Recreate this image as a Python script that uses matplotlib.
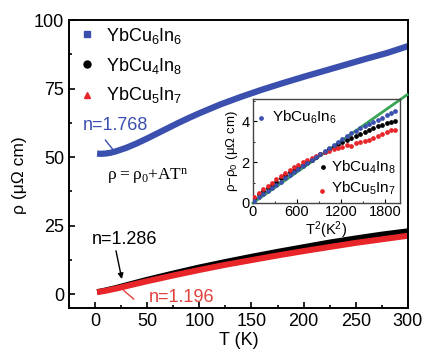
import matplotlib
matplotlib.use("Agg")
import matplotlib.pyplot as plt
from matplotlib.ticker import MultipleLocator

plt.rcParams['font.family'] = ['Liberation Sans', 'DejaVu Sans']

# ---------------- data ----------------
T6 = [2, 5, 10, 15, 20, 30, 40, 50, 60, 70, 80, 90, 100, 120, 140, 160, 180, 200, 220, 240, 260, 280, 300]
rho6 = [51.3, 51.2, 51.3, 51.6, 52.1, 53.4, 55.0, 56.8, 58.7, 60.6, 62.5, 64.3, 66.0, 69.2, 72.0, 74.6,
        77.0, 79.3, 81.5, 83.7, 85.9, 88.0, 90.5]

T48 = [2, 5, 10, 20, 30, 40, 50, 75, 100, 125, 150, 175, 200, 225, 250, 275, 300]
rho48 = [0.8, 1.0, 1.4, 2.3, 3.3, 4.3, 5.3, 7.6, 9.8, 11.8, 13.7, 15.5, 17.2, 18.9, 20.4, 21.8, 23.0]

T57 = [2, 5, 10, 20, 30, 40, 50, 75, 100, 125, 150, 175, 200, 225, 250, 275, 300]
rho57 = [0.7, 0.9, 1.2, 2.0, 2.9, 3.8, 4.7, 6.8, 8.8, 10.7, 12.4, 14.1, 15.7, 17.2, 18.7, 20.0, 21.3]

# inset: rho - rho0 vs T^2
T2 = [20, 80, 140, 200, 260, 320, 380, 440, 500, 560, 620, 680, 740, 800, 860, 920, 980, 1040,
      1100, 1160, 1220, 1280, 1340, 1400, 1460, 1520, 1580, 1640, 1700, 1760, 1820, 1880, 1940]
d6 = [0.1, 0.3, 0.45, 0.6, 0.75, 0.9, 1.05, 1.2, 1.35, 1.5, 1.65, 1.8, 1.95, 2.1, 2.25, 2.4, 2.55,
      2.7, 2.85, 3.0, 3.15, 3.3, 3.42, 3.52, 3.65, 3.75, 3.85, 3.95, 4.05, 4.15, 4.3, 4.4, 4.5]
d48 = [0.25, 0.45, 0.6, 0.75, 0.9, 1.05, 1.2, 1.35, 1.5, 1.62, 1.75, 1.88, 2.0, 2.12, 2.25, 2.38,
       2.5, 2.62, 2.75, 2.87, 2.98, 3.1, 3.2, 3.3, 3.4, 3.5, 3.58, 3.66, 3.75, 3.82, 3.9, 3.95, 4.0]
d57 = [0.3, 0.5, 0.7, 0.85, 1.0, 1.15, 1.3, 1.45, 1.6, 1.75, 1.88, 2.0, 2.1, 2.2, 2.3, 2.4, 2.5,
       2.55, 2.62, 2.7, 2.75, 2.85, 2.8, 2.95, 3.0, 3.05, 3.1, 3.2, 3.3, 3.4, 3.5, 3.55, 3.55]
T2_fit = [0, 2100]
d_fit = [0, 5.3]

labels = [r'$\mathregular{YbCu_6In_6}$', r'$\mathregular{YbCu_4In_8}$', r'$\mathregular{YbCu_5In_7}$']

BLUE = '#3a4fae'
RED = '#e8262a'
BLACK = '#000000'
GREEN = '#3aa655'

fig = plt.figure(figsize=(4.28, 3.53), dpi=100)
ax = fig.add_axes([0.161, 0.128, 0.792, 0.815])

ax.plot(T6, rho6, color=BLUE, lw=4.5, solid_capstyle='butt')
ax.plot(T48, rho48, color=BLACK, lw=4.0, solid_capstyle='butt')
ax.plot(T57, rho57, color=RED, lw=4.3, solid_capstyle='butt')

ax.set_xlim(-25, 300)
ax.set_ylim(-5, 100)
ax.xaxis.set_major_locator(MultipleLocator(50))
ax.xaxis.set_minor_locator(MultipleLocator(25))
ax.yaxis.set_major_locator(MultipleLocator(25))
ax.yaxis.set_minor_locator(MultipleLocator(12.5))
ax.tick_params(which='both', direction='in', top=False, right=False, labelsize=13, width=1.2)
ax.tick_params(which='major', length=4)
ax.tick_params(which='minor', length=2.5)
for s in ax.spines.values():
    s.set_linewidth(1.4)
ax.set_xlabel('T (K)', fontsize=13, labelpad=2)
ax.set_ylabel('ρ (μΩ cm)', fontsize=12.5)
ax.yaxis.set_label_coords(-0.125, 0.46)

# legend (manual)
mk = ['s', 'o', '^']
cols = [BLUE, BLACK, RED]
leg_marker_y = [94.9, 84.0, 72.7]
leg_text_y = [92.5, 81.6, 70.7]
for m, c, ym, yt, lab in zip(mk, cols, leg_marker_y, leg_text_y, labels):
    ax.plot([-7.5], [ym], marker=m, color=c, ms=5, ls='none')
    ax.text(11, yt, lab, fontsize=13, va='baseline', ha='left')

# annotations
ax.text(19.6, 61.6, 'n=1.768', color=BLUE, fontsize=13, ha='center', va='center')
ax.plot([10, 17.7], [56.2, 52.5], color=BLUE, lw=1.0)
ax.text(50.7, 42.7, r'$\mathregular{\rho=\rho_0{+}AT^n}$', fontsize=12.5, ha='center', va='center',
        family=['Liberation Serif', 'DejaVu Serif'])
ax.text(28.2, 19.8, 'n=1.286', color=BLACK, fontsize=13, ha='center', va='center')
ax.annotate('', xy=(26.3, 4.5), xytext=(19.6, 16.8),
            arrowprops=dict(arrowstyle='-|>', color='black', lw=1.0, mutation_scale=8))
ax.text(82.8, -1.4, 'n=1.196', color='#e2403a', fontsize=13, ha='center', va='center')
ax.plot([37.2, 27.6], [-1.8, 1.3], color='#e2403a', lw=1.0)

# ---------------- inset ----------------
ins = fig.add_axes([0.591, 0.425, 0.343, 0.295])
ins.plot(T2_fit, d_fit, color=GREEN, lw=2.0, clip_on=False, zorder=1)
ins.plot(T2, d48, 'o', color=BLACK, ms=2.4, zorder=3)
ins.plot(T2, d57, 'o', color=RED, ms=2.4, zorder=3)
ins.plot(T2, d6, 'o', color=BLUE, ms=2.4, zorder=3)
ins.set_xlim(0, 2000)
ins.set_ylim(0, 5.1)
ins.xaxis.set_major_locator(MultipleLocator(600))
ins.xaxis.set_minor_locator(MultipleLocator(300))
ins.yaxis.set_major_locator(MultipleLocator(2))
ins.yaxis.set_minor_locator(MultipleLocator(1))
ins.tick_params(which='both', direction='in', top=False, right=False, labelsize=10.5, pad=1.5)
ins.tick_params(axis='y', pad=2.5)
ins.tick_params(which='major', length=3)
ins.tick_params(which='minor', length=1.5)
for s in ins.spines.values():
    s.set_linewidth(1.0)
    s.set_color('#444444')
ins.set_xlabel(r'$\mathregular{T^2(K^2)}$', fontsize=10.5, labelpad=0)
ins.set_ylabel(r'$\mathregular{\rho{-}\rho_0\ (\mu\Omega\ cm)}$', fontsize=9.5, labelpad=1)

ins.plot([0.058], [0.82], 'o', color=BLUE, ms=2.4, transform=ins.transAxes)
ins.text(0.127, 0.78, labels[0], fontsize=11, transform=ins.transAxes, va='baseline')
ins.plot([0.478], [0.343], 'o', color=BLACK, ms=2.4, transform=ins.transAxes)
ins.text(0.53, 0.30, labels[1], fontsize=11, transform=ins.transAxes, va='baseline')
ins.plot([0.467], [0.118], 'o', color=RED, ms=2.4, transform=ins.transAxes)
ins.text(0.53, 0.096, labels[2], fontsize=11, transform=ins.transAxes, va='baseline')

fig.savefig('out.png', dpi=100)
